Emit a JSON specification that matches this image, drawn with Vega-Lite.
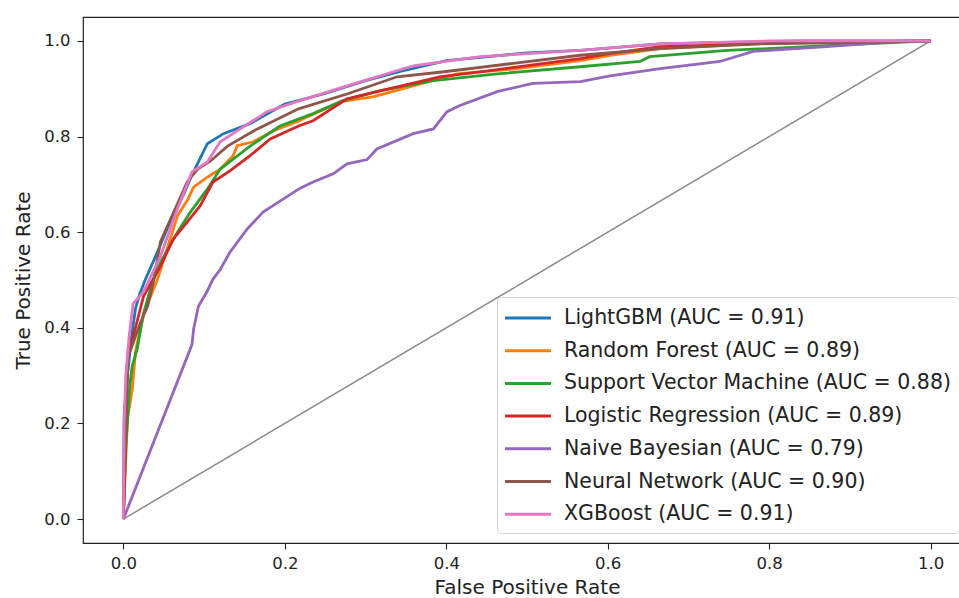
{
  "$schema": "https://vega.github.io/schema/vega-lite/v6.json",
  "autosize": {"type": "none"},
  "padding": {"left": 83, "top": 17, "right": 0, "bottom": 55},
  "width": 888,
  "height": 526,
  "background": "white",
  "config": {
    "font": "DejaVu Sans",
    "view": {"stroke": "#222", "strokeWidth": 1.2},
    "axis": {"grid": false, "domain": false, "tickColor": "#222", "tickSize": 6, "tickWidth": 1.1, "labelFont": "DejaVu Sans", "labelFontSize": 16.5, "labelColor": "#222", "titleFont": "DejaVu Sans", "titleFontSize": 20, "titleFontWeight": "normal", "titleColor": "#222"}
  },
  "layer": [
    {
      "data": {"values": [{"fpr": 0, "tpr": 0}, {"fpr": 1, "tpr": 1}]},
      "mark": {"type": "line", "color": "#8a8a8a", "strokeWidth": 1.5},
      "encoding": {
        "x": {"field": "fpr", "type": "quantitative", "scale": {"domain": [-0.05, 1.05], "nice": false, "zero": false}},
        "y": {"field": "tpr", "type": "quantitative", "scale": {"domain": [-0.05, 1.05], "nice": false, "zero": false}}
      }
    },
    {
      "data": {"values": [
        {"model": "LightGBM (AUC = 0.91)", "fpr": 0, "tpr": 0},
        {"model": "LightGBM (AUC = 0.91)", "fpr": 0.001, "tpr": 0.22},
        {"model": "LightGBM (AUC = 0.91)", "fpr": 0.005, "tpr": 0.3},
        {"model": "LightGBM (AUC = 0.91)", "fpr": 0.01, "tpr": 0.38},
        {"model": "LightGBM (AUC = 0.91)", "fpr": 0.015, "tpr": 0.44},
        {"model": "LightGBM (AUC = 0.91)", "fpr": 0.02, "tpr": 0.47},
        {"model": "LightGBM (AUC = 0.91)", "fpr": 0.027, "tpr": 0.5},
        {"model": "LightGBM (AUC = 0.91)", "fpr": 0.04, "tpr": 0.55},
        {"model": "LightGBM (AUC = 0.91)", "fpr": 0.05, "tpr": 0.59},
        {"model": "LightGBM (AUC = 0.91)", "fpr": 0.061, "tpr": 0.634},
        {"model": "LightGBM (AUC = 0.91)", "fpr": 0.075, "tpr": 0.68},
        {"model": "LightGBM (AUC = 0.91)", "fpr": 0.085, "tpr": 0.72},
        {"model": "LightGBM (AUC = 0.91)", "fpr": 0.093, "tpr": 0.747},
        {"model": "LightGBM (AUC = 0.91)", "fpr": 0.104, "tpr": 0.785},
        {"model": "LightGBM (AUC = 0.91)", "fpr": 0.124, "tpr": 0.806},
        {"model": "LightGBM (AUC = 0.91)", "fpr": 0.157, "tpr": 0.827},
        {"model": "LightGBM (AUC = 0.91)", "fpr": 0.2, "tpr": 0.868},
        {"model": "LightGBM (AUC = 0.91)", "fpr": 0.25, "tpr": 0.89},
        {"model": "LightGBM (AUC = 0.91)", "fpr": 0.3, "tpr": 0.917},
        {"model": "LightGBM (AUC = 0.91)", "fpr": 0.343, "tpr": 0.936},
        {"model": "LightGBM (AUC = 0.91)", "fpr": 0.4, "tpr": 0.959},
        {"model": "LightGBM (AUC = 0.91)", "fpr": 0.5, "tpr": 0.975},
        {"model": "LightGBM (AUC = 0.91)", "fpr": 0.566, "tpr": 0.98},
        {"model": "LightGBM (AUC = 0.91)", "fpr": 0.665, "tpr": 0.994},
        {"model": "LightGBM (AUC = 0.91)", "fpr": 0.84, "tpr": 1.0},
        {"model": "LightGBM (AUC = 0.91)", "fpr": 1.0, "tpr": 1.0},

        {"model": "Random Forest (AUC = 0.89)", "fpr": 0, "tpr": 0},
        {"model": "Random Forest (AUC = 0.89)", "fpr": 0.005, "tpr": 0.21},
        {"model": "Random Forest (AUC = 0.89)", "fpr": 0.011, "tpr": 0.27},
        {"model": "Random Forest (AUC = 0.89)", "fpr": 0.015, "tpr": 0.35},
        {"model": "Random Forest (AUC = 0.89)", "fpr": 0.025, "tpr": 0.43},
        {"model": "Random Forest (AUC = 0.89)", "fpr": 0.042, "tpr": 0.5},
        {"model": "Random Forest (AUC = 0.89)", "fpr": 0.067, "tpr": 0.634},
        {"model": "Random Forest (AUC = 0.89)", "fpr": 0.08, "tpr": 0.669},
        {"model": "Random Forest (AUC = 0.89)", "fpr": 0.087, "tpr": 0.694},
        {"model": "Random Forest (AUC = 0.89)", "fpr": 0.104, "tpr": 0.715},
        {"model": "Random Forest (AUC = 0.89)", "fpr": 0.12, "tpr": 0.732},
        {"model": "Random Forest (AUC = 0.89)", "fpr": 0.136, "tpr": 0.76},
        {"model": "Random Forest (AUC = 0.89)", "fpr": 0.141, "tpr": 0.781},
        {"model": "Random Forest (AUC = 0.89)", "fpr": 0.161, "tpr": 0.789},
        {"model": "Random Forest (AUC = 0.89)", "fpr": 0.186, "tpr": 0.812},
        {"model": "Random Forest (AUC = 0.89)", "fpr": 0.215, "tpr": 0.831},
        {"model": "Random Forest (AUC = 0.89)", "fpr": 0.269, "tpr": 0.873},
        {"model": "Random Forest (AUC = 0.89)", "fpr": 0.309, "tpr": 0.883},
        {"model": "Random Forest (AUC = 0.89)", "fpr": 0.359, "tpr": 0.906},
        {"model": "Random Forest (AUC = 0.89)", "fpr": 0.413, "tpr": 0.931},
        {"model": "Random Forest (AUC = 0.89)", "fpr": 0.483, "tpr": 0.941},
        {"model": "Random Forest (AUC = 0.89)", "fpr": 0.566, "tpr": 0.959},
        {"model": "Random Forest (AUC = 0.89)", "fpr": 0.603, "tpr": 0.97},
        {"model": "Random Forest (AUC = 0.89)", "fpr": 0.665, "tpr": 0.984},
        {"model": "Random Forest (AUC = 0.89)", "fpr": 0.8, "tpr": 0.996},
        {"model": "Random Forest (AUC = 0.89)", "fpr": 1.0, "tpr": 1.0},

        {"model": "Support Vector Machine (AUC = 0.88)", "fpr": 0, "tpr": 0},
        {"model": "Support Vector Machine (AUC = 0.88)", "fpr": 0.003, "tpr": 0.15},
        {"model": "Support Vector Machine (AUC = 0.88)", "fpr": 0.008, "tpr": 0.28},
        {"model": "Support Vector Machine (AUC = 0.88)", "fpr": 0.011, "tpr": 0.32},
        {"model": "Support Vector Machine (AUC = 0.88)", "fpr": 0.017, "tpr": 0.355},
        {"model": "Support Vector Machine (AUC = 0.88)", "fpr": 0.025, "tpr": 0.43},
        {"model": "Support Vector Machine (AUC = 0.88)", "fpr": 0.035, "tpr": 0.49},
        {"model": "Support Vector Machine (AUC = 0.88)", "fpr": 0.046, "tpr": 0.537},
        {"model": "Support Vector Machine (AUC = 0.88)", "fpr": 0.067, "tpr": 0.6},
        {"model": "Support Vector Machine (AUC = 0.88)", "fpr": 0.083, "tpr": 0.642},
        {"model": "Support Vector Machine (AUC = 0.88)", "fpr": 0.104, "tpr": 0.69},
        {"model": "Support Vector Machine (AUC = 0.88)", "fpr": 0.12, "tpr": 0.732},
        {"model": "Support Vector Machine (AUC = 0.88)", "fpr": 0.136, "tpr": 0.753},
        {"model": "Support Vector Machine (AUC = 0.88)", "fpr": 0.157, "tpr": 0.78},
        {"model": "Support Vector Machine (AUC = 0.88)", "fpr": 0.194, "tpr": 0.822},
        {"model": "Support Vector Machine (AUC = 0.88)", "fpr": 0.235, "tpr": 0.848},
        {"model": "Support Vector Machine (AUC = 0.88)", "fpr": 0.272, "tpr": 0.875},
        {"model": "Support Vector Machine (AUC = 0.88)", "fpr": 0.318, "tpr": 0.896},
        {"model": "Support Vector Machine (AUC = 0.88)", "fpr": 0.384, "tpr": 0.917},
        {"model": "Support Vector Machine (AUC = 0.88)", "fpr": 0.463, "tpr": 0.931},
        {"model": "Support Vector Machine (AUC = 0.88)", "fpr": 0.566, "tpr": 0.946},
        {"model": "Support Vector Machine (AUC = 0.88)", "fpr": 0.64, "tpr": 0.957},
        {"model": "Support Vector Machine (AUC = 0.88)", "fpr": 0.652, "tpr": 0.967},
        {"model": "Support Vector Machine (AUC = 0.88)", "fpr": 0.748, "tpr": 0.98},
        {"model": "Support Vector Machine (AUC = 0.88)", "fpr": 0.871, "tpr": 0.99},
        {"model": "Support Vector Machine (AUC = 0.88)", "fpr": 1.0, "tpr": 1.0},

        {"model": "Logistic Regression (AUC = 0.89)", "fpr": 0, "tpr": 0},
        {"model": "Logistic Regression (AUC = 0.89)", "fpr": 0.002, "tpr": 0.12},
        {"model": "Logistic Regression (AUC = 0.89)", "fpr": 0.005, "tpr": 0.334},
        {"model": "Logistic Regression (AUC = 0.89)", "fpr": 0.009, "tpr": 0.36},
        {"model": "Logistic Regression (AUC = 0.89)", "fpr": 0.018, "tpr": 0.42},
        {"model": "Logistic Regression (AUC = 0.89)", "fpr": 0.025, "tpr": 0.466},
        {"model": "Logistic Regression (AUC = 0.89)", "fpr": 0.046, "tpr": 0.529},
        {"model": "Logistic Regression (AUC = 0.89)", "fpr": 0.062, "tpr": 0.586},
        {"model": "Logistic Regression (AUC = 0.89)", "fpr": 0.079, "tpr": 0.621},
        {"model": "Logistic Regression (AUC = 0.89)", "fpr": 0.095, "tpr": 0.655},
        {"model": "Logistic Regression (AUC = 0.89)", "fpr": 0.111, "tpr": 0.705},
        {"model": "Logistic Regression (AUC = 0.89)", "fpr": 0.132, "tpr": 0.728},
        {"model": "Logistic Regression (AUC = 0.89)", "fpr": 0.157, "tpr": 0.76},
        {"model": "Logistic Regression (AUC = 0.89)", "fpr": 0.182, "tpr": 0.795},
        {"model": "Logistic Regression (AUC = 0.89)", "fpr": 0.217, "tpr": 0.822},
        {"model": "Logistic Regression (AUC = 0.89)", "fpr": 0.235, "tpr": 0.833},
        {"model": "Logistic Regression (AUC = 0.89)", "fpr": 0.277, "tpr": 0.879},
        {"model": "Logistic Regression (AUC = 0.89)", "fpr": 0.33, "tpr": 0.9},
        {"model": "Logistic Regression (AUC = 0.89)", "fpr": 0.392, "tpr": 0.925},
        {"model": "Logistic Regression (AUC = 0.89)", "fpr": 0.454, "tpr": 0.938},
        {"model": "Logistic Regression (AUC = 0.89)", "fpr": 0.566, "tpr": 0.963},
        {"model": "Logistic Regression (AUC = 0.89)", "fpr": 0.6, "tpr": 0.973},
        {"model": "Logistic Regression (AUC = 0.89)", "fpr": 0.665, "tpr": 0.988},
        {"model": "Logistic Regression (AUC = 0.89)", "fpr": 0.85, "tpr": 0.997},
        {"model": "Logistic Regression (AUC = 0.89)", "fpr": 1.0, "tpr": 1.0},

        {"model": "Naive Bayesian (AUC = 0.79)", "fpr": 0, "tpr": 0},
        {"model": "Naive Bayesian (AUC = 0.79)", "fpr": 0.085, "tpr": 0.365},
        {"model": "Naive Bayesian (AUC = 0.79)", "fpr": 0.087, "tpr": 0.397},
        {"model": "Naive Bayesian (AUC = 0.79)", "fpr": 0.093, "tpr": 0.445},
        {"model": "Naive Bayesian (AUC = 0.79)", "fpr": 0.104, "tpr": 0.477},
        {"model": "Naive Bayesian (AUC = 0.79)", "fpr": 0.111, "tpr": 0.502},
        {"model": "Naive Bayesian (AUC = 0.79)", "fpr": 0.12, "tpr": 0.522},
        {"model": "Naive Bayesian (AUC = 0.79)", "fpr": 0.132, "tpr": 0.558},
        {"model": "Naive Bayesian (AUC = 0.79)", "fpr": 0.153, "tpr": 0.606},
        {"model": "Naive Bayesian (AUC = 0.79)", "fpr": 0.173, "tpr": 0.642},
        {"model": "Naive Bayesian (AUC = 0.79)", "fpr": 0.194, "tpr": 0.665},
        {"model": "Naive Bayesian (AUC = 0.79)", "fpr": 0.219, "tpr": 0.692},
        {"model": "Naive Bayesian (AUC = 0.79)", "fpr": 0.235, "tpr": 0.705},
        {"model": "Naive Bayesian (AUC = 0.79)", "fpr": 0.26, "tpr": 0.722},
        {"model": "Naive Bayesian (AUC = 0.79)", "fpr": 0.277, "tpr": 0.743},
        {"model": "Naive Bayesian (AUC = 0.79)", "fpr": 0.302, "tpr": 0.752},
        {"model": "Naive Bayesian (AUC = 0.79)", "fpr": 0.314, "tpr": 0.774},
        {"model": "Naive Bayesian (AUC = 0.79)", "fpr": 0.359, "tpr": 0.806},
        {"model": "Naive Bayesian (AUC = 0.79)", "fpr": 0.384, "tpr": 0.816},
        {"model": "Naive Bayesian (AUC = 0.79)", "fpr": 0.401, "tpr": 0.852},
        {"model": "Naive Bayesian (AUC = 0.79)", "fpr": 0.417, "tpr": 0.865},
        {"model": "Naive Bayesian (AUC = 0.79)", "fpr": 0.463, "tpr": 0.894},
        {"model": "Naive Bayesian (AUC = 0.79)", "fpr": 0.507, "tpr": 0.911},
        {"model": "Naive Bayesian (AUC = 0.79)", "fpr": 0.566, "tpr": 0.915},
        {"model": "Naive Bayesian (AUC = 0.79)", "fpr": 0.603, "tpr": 0.927},
        {"model": "Naive Bayesian (AUC = 0.79)", "fpr": 0.665, "tpr": 0.942},
        {"model": "Naive Bayesian (AUC = 0.79)", "fpr": 0.739, "tpr": 0.957},
        {"model": "Naive Bayesian (AUC = 0.79)", "fpr": 0.78, "tpr": 0.978},
        {"model": "Naive Bayesian (AUC = 0.79)", "fpr": 0.871, "tpr": 0.988},
        {"model": "Naive Bayesian (AUC = 0.79)", "fpr": 0.953, "tpr": 0.998},
        {"model": "Naive Bayesian (AUC = 0.79)", "fpr": 1.0, "tpr": 1.0},

        {"model": "Neural Network (AUC = 0.90)", "fpr": 0, "tpr": 0},
        {"model": "Neural Network (AUC = 0.90)", "fpr": 0.002, "tpr": 0.15},
        {"model": "Neural Network (AUC = 0.90)", "fpr": 0.006, "tpr": 0.34},
        {"model": "Neural Network (AUC = 0.90)", "fpr": 0.021, "tpr": 0.41},
        {"model": "Neural Network (AUC = 0.90)", "fpr": 0.03, "tpr": 0.445},
        {"model": "Neural Network (AUC = 0.90)", "fpr": 0.037, "tpr": 0.495},
        {"model": "Neural Network (AUC = 0.90)", "fpr": 0.046, "tpr": 0.58},
        {"model": "Neural Network (AUC = 0.90)", "fpr": 0.068, "tpr": 0.663},
        {"model": "Neural Network (AUC = 0.90)", "fpr": 0.079, "tpr": 0.705},
        {"model": "Neural Network (AUC = 0.90)", "fpr": 0.092, "tpr": 0.732},
        {"model": "Neural Network (AUC = 0.90)", "fpr": 0.108, "tpr": 0.749},
        {"model": "Neural Network (AUC = 0.90)", "fpr": 0.129, "tpr": 0.78},
        {"model": "Neural Network (AUC = 0.90)", "fpr": 0.166, "tpr": 0.816},
        {"model": "Neural Network (AUC = 0.90)", "fpr": 0.217, "tpr": 0.858},
        {"model": "Neural Network (AUC = 0.90)", "fpr": 0.277, "tpr": 0.889},
        {"model": "Neural Network (AUC = 0.90)", "fpr": 0.339, "tpr": 0.925},
        {"model": "Neural Network (AUC = 0.90)", "fpr": 0.4, "tpr": 0.936},
        {"model": "Neural Network (AUC = 0.90)", "fpr": 0.483, "tpr": 0.953},
        {"model": "Neural Network (AUC = 0.90)", "fpr": 0.566, "tpr": 0.97},
        {"model": "Neural Network (AUC = 0.90)", "fpr": 0.665, "tpr": 0.984},
        {"model": "Neural Network (AUC = 0.90)", "fpr": 0.788, "tpr": 0.994},
        {"model": "Neural Network (AUC = 0.90)", "fpr": 0.953, "tpr": 0.998},
        {"model": "Neural Network (AUC = 0.90)", "fpr": 1.0, "tpr": 1.0},

        {"model": "XGBoost (AUC = 0.91)", "fpr": 0, "tpr": 0},
        {"model": "XGBoost (AUC = 0.91)", "fpr": 0.001, "tpr": 0.2},
        {"model": "XGBoost (AUC = 0.91)", "fpr": 0.003, "tpr": 0.3},
        {"model": "XGBoost (AUC = 0.91)", "fpr": 0.007, "tpr": 0.38},
        {"model": "XGBoost (AUC = 0.91)", "fpr": 0.012, "tpr": 0.45},
        {"model": "XGBoost (AUC = 0.91)", "fpr": 0.025, "tpr": 0.475},
        {"model": "XGBoost (AUC = 0.91)", "fpr": 0.046, "tpr": 0.55},
        {"model": "XGBoost (AUC = 0.91)", "fpr": 0.067, "tpr": 0.649},
        {"model": "XGBoost (AUC = 0.91)", "fpr": 0.085, "tpr": 0.726},
        {"model": "XGBoost (AUC = 0.91)", "fpr": 0.104, "tpr": 0.747},
        {"model": "XGBoost (AUC = 0.91)", "fpr": 0.12, "tpr": 0.789},
        {"model": "XGBoost (AUC = 0.91)", "fpr": 0.141, "tpr": 0.812},
        {"model": "XGBoost (AUC = 0.91)", "fpr": 0.178, "tpr": 0.852},
        {"model": "XGBoost (AUC = 0.91)", "fpr": 0.215, "tpr": 0.873},
        {"model": "XGBoost (AUC = 0.91)", "fpr": 0.277, "tpr": 0.906},
        {"model": "XGBoost (AUC = 0.91)", "fpr": 0.359, "tpr": 0.948},
        {"model": "XGBoost (AUC = 0.91)", "fpr": 0.442, "tpr": 0.967},
        {"model": "XGBoost (AUC = 0.91)", "fpr": 0.566, "tpr": 0.98},
        {"model": "XGBoost (AUC = 0.91)", "fpr": 0.665, "tpr": 0.994},
        {"model": "XGBoost (AUC = 0.91)", "fpr": 0.8, "tpr": 1.0},
        {"model": "XGBoost (AUC = 0.91)", "fpr": 1.0, "tpr": 1.0}
      ]},
      "mark": {"type": "line", "strokeWidth": 2.8},
      "encoding": {
        "x": {"field": "fpr", "type": "quantitative", "title": "False Positive Rate",
              "axis": {"values": [0, 0.2, 0.4, 0.6, 0.8, 1.0], "format": ".1f", "labelPadding": 6, "titlePadding": 6}},
        "y": {"field": "tpr", "type": "quantitative", "title": "True Positive Rate",
              "axis": {"values": [0, 0.2, 0.4, 0.6, 0.8, 1.0], "format": ".1f", "labelPadding": 7, "titlePadding": 10}},
        "color": {"field": "model", "type": "nominal",
          "scale": {
            "domain": ["LightGBM (AUC = 0.91)", "Random Forest (AUC = 0.89)", "Support Vector Machine (AUC = 0.88)", "Logistic Regression (AUC = 0.89)", "Naive Bayesian (AUC = 0.79)", "Neural Network (AUC = 0.90)", "XGBoost (AUC = 0.91)"],
            "range": ["#1f77b4", "#ff7f0e", "#2ca02c", "#d62728", "#9467bd", "#8c564b", "#e377c2"]
          },
          "legend": {
            "title": null, "orient": "none", "legendX": 414, "legendY": 280,
            "symbolType": "M-2,0H2", "symbolSize": 529, "symbolStrokeWidth": 3, "symbolOffset": 10,
            "labelFontSize": 20.5, "labelFont": "DejaVu Sans", "labelColor": "#222", "labelOffset": 23, "labelLimit": 600,
            "rowPadding": 8.7, "padding": 8, "strokeColor": "#d4d4d4", "fillColor": "white", "cornerRadius": 4
          }
        }
      }
    }
  ],
  "resolve": {"scale": {"x": "shared", "y": "shared"}}
}
